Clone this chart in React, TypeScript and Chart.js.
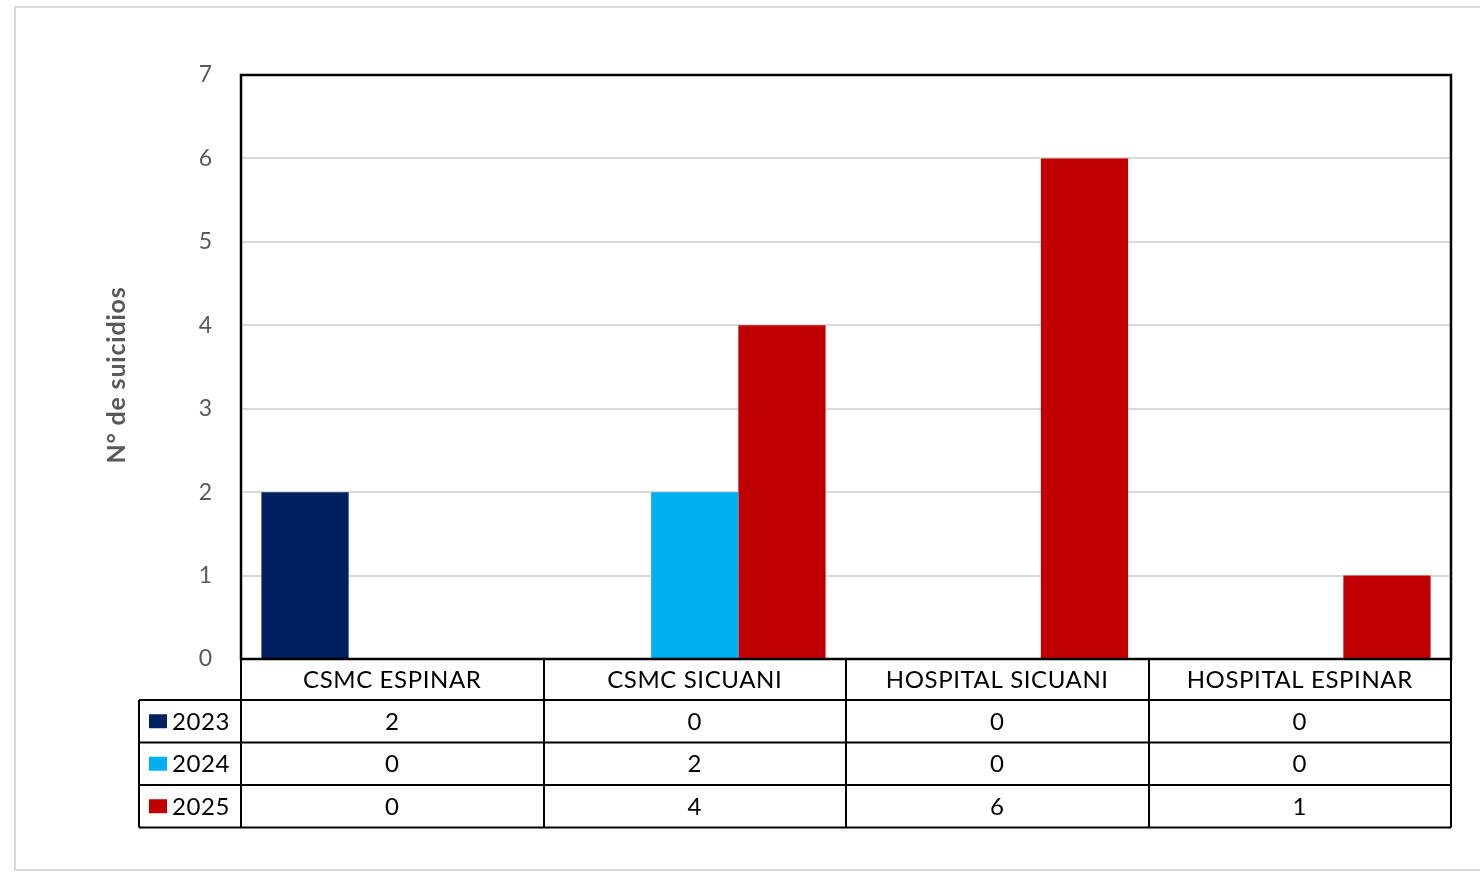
import React, { useEffect, useRef } from "react";
import { Chart, registerables } from "chart.js";

Chart.register(...registerables);

const categories = ["CSMC ESPINAR", "CSMC SICUANI", "HOSPITAL SICUANI", "HOSPITAL ESPINAR"];
const seriesNames = ["2023", "2024", "2025"];
const values2023 = [2, 0, 0, 0];
const values2024 = [0, 2, 0, 0];
const values2025 = [0, 4, 6, 1];
const seriesColors = ["#002060", "#00B0F0", "#C00000"];
const yTicks = [0, 1, 2, 3, 4, 5, 6, 7];
const yTitle = "N° de suicidios";

const FONT = "Lato, 'Open Sans', sans-serif";

export default function App() {
  const ref = useRef<HTMLCanvasElement | null>(null);

  useEffect(() => {
    if (!ref.current) return;
    const allSeries = [values2023, values2024, values2025];

    const tablePlugin = {
      id: "tablePlugin",
      beforeDraw(chart: any) {
        const ctx = chart.ctx;
        ctx.save();
        ctx.fillStyle = "#ffffff";
        ctx.fillRect(0, 0, chart.width, chart.height);
        ctx.strokeStyle = "#D9D9D9";
        ctx.lineWidth = 2;
        ctx.strokeRect(15, 7, chart.width + 10, 863);
        ctx.restore();
      },
      afterDraw(chart: any) {
        const ctx = chart.ctx;
        const area = chart.chartArea;
        const xs = chart.scales.x;
        const n = categories.length;
        const colW = (area.right - area.left) / n;
        const headerH = 41;
        const rowH = 42.5;
        const legendLeft = 139;
        ctx.save();
        // plot area border
        ctx.strokeStyle = "#000000";
        ctx.lineWidth = 2.5;
        ctx.strokeRect(area.left, area.top, area.right - area.left, area.bottom - area.top);

        // table lines
        ctx.lineWidth = 2;
        const top = area.bottom;
        const bottom = top + headerH + rowH * seriesNames.length;
        ctx.beginPath();
        for (let i = 0; i <= n; i++) {
          const x = Math.round(xs.getPixelForValue(Math.min(i, n - 1)) + (i === n ? colW / 2 : -colW / 2));
          ctx.moveTo(x, top);
          ctx.lineTo(x, bottom);
        }
        ctx.moveTo(legendLeft, top + headerH);
        ctx.lineTo(legendLeft, bottom);
        for (let r = 0; r <= seriesNames.length; r++) {
          const y = top + headerH + r * rowH;
          ctx.moveTo(legendLeft, y);
          ctx.lineTo(area.right, y);
        }
        ctx.stroke();

        ctx.fillStyle = "#000000";
        ctx.font = `24px ${FONT}`;
        (ctx as any).letterSpacing = "0.6px";
        ctx.textAlign = "center";
        ctx.textBaseline = "middle";
        categories.forEach((c, i) => {
          const cx = xs.getPixelForValue(i);
          ctx.fillText(c, cx, top + headerH / 2 + 1);
          allSeries.forEach((vals, r) => {
            ctx.fillText(String(vals[i]), cx, top + headerH + r * rowH + rowH / 2 + 1);
          });
        });
        seriesNames.forEach((s, r) => {
          const cy = top + headerH + r * rowH + rowH / 2;
          ctx.fillStyle = seriesColors[r];
          ctx.fillRect(149, cy - 7, 18, 14);
          ctx.fillStyle = "#000000";
          ctx.textAlign = "left";
          ctx.fillText(s, 172, cy + 1);
        });

        // y title
        ctx.save();
        ctx.translate(117, (area.top + area.bottom) / 2 + 8);
        ctx.rotate(-Math.PI / 2);
        ctx.fillStyle = "#595959";
        ctx.font = `bold 25px ${FONT}`;
        (ctx as any).letterSpacing = "0.8px";
        ctx.textAlign = "center";
        ctx.textBaseline = "middle";
        ctx.fillText(yTitle, 0, 0);
        ctx.restore();
        ctx.restore();
      },
    };

    const chart = new Chart(ref.current, {
      type: "bar",
      data: {
        labels: categories,
        datasets: seriesNames.map((s, i) => ({
          label: s,
          data: allSeries[i],
          backgroundColor: seriesColors[i],
          borderWidth: 0,
          categoryPercentage: 0.865,
          barPercentage: 1,
        })),
      },
      options: {
        responsive: false,
        animation: false,
        layout: { padding: { top: 75, bottom: 213, right: 29, left: 0 } },
        plugins: {
          legend: { display: false },
          tooltip: { enabled: false },
          title: { display: false },
        },
        scales: {
          x: {
            display: false,
            grid: { display: false },
          },
          y: {
            min: 0,
            max: 7,
            afterFit(scale: any) {
              scale.width = 241;
            },
            afterBuildTicks(scale: any) {
              scale.ticks = yTicks.map((v) => ({ value: v }));
            },
            border: { display: false },
            grid: { color: "#D9D9D9", lineWidth: 2, drawTicks: false },
            ticks: {
              color: "#595959",
              font: { family: FONT, size: 23 },
              padding: 29,
            },
          },
        },
      },
      plugins: [tablePlugin],
    });
    return () => chart.destroy();
  }, []);

  return (
    <div style={{ position: "fixed", left: 0, top: 0, width: 1480, height: 872, background: "#fff" }}>
      <canvas ref={ref} width={1480} height={872} style={{ display: "block" }} />
    </div>
  );
}
